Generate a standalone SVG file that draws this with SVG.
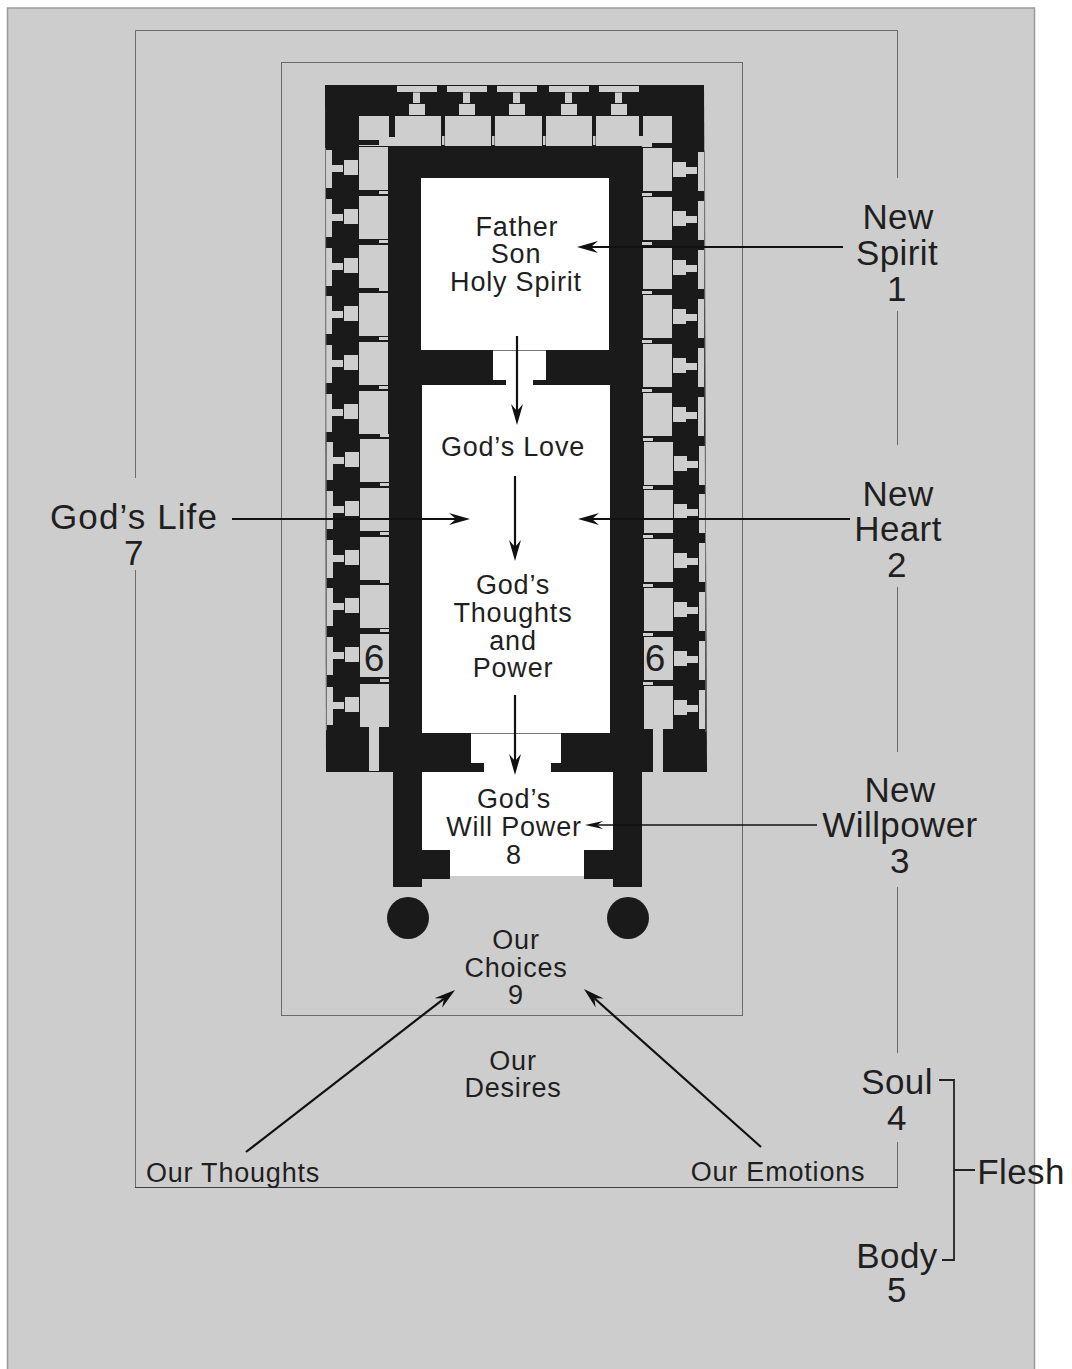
<svg xmlns="http://www.w3.org/2000/svg" width="1072" height="1369" viewBox="0 0 1072 1369">
<style>
text{font-family:"Liberation Sans",Arial,sans-serif;fill:#1f1f1f;text-anchor:middle}
.s{font-size:27px;letter-spacing:.8px}
.l{font-size:35px;letter-spacing:.4px}
.w6{font-size:37px}
.wide{letter-spacing:1.1px}
.f{fill:#cecece}
.k{fill:#1a1a1a}
.w{fill:#fff}
.frame{stroke:#6a6a6a;stroke-width:1;fill:none}
.arrow{stroke:#111;stroke-width:2.2;fill:none;marker-end:url(#head)}
.arrow2{stroke:#111;stroke-width:1.6;fill:none;marker-end:url(#headS)}
.brace{stroke:#222;stroke-width:1.8;fill:none}
.edge{stroke:#777;stroke-width:1;fill:none}
</style>
<defs>
<marker id="head" markerUnits="userSpaceOnUse" markerWidth="22" markerHeight="14" refX="7" refY="6.5" orient="auto"><path d="M0,0.5 L21,6.5 L0,12.5 L7,6.5 Z" fill="#111"/></marker>
<marker id="headS" markerUnits="userSpaceOnUse" markerWidth="20" markerHeight="10" refX="6" refY="4.5" orient="auto"><path d="M0,0.5 L18,4.5 L0,8.5 L6,4.5 Z" fill="#111"/></marker>
<g id="bayL"><rect class="f" x="325.500" y="3" width="6.500" height="38"/><rect class="f" x="332" y="18" width="11" height="7"/><rect class="f" x="344" y="13" width="14" height="15"/><rect class="f" x="359" y="0" width="29" height="43"/><rect class="f" x="379" y="-5" width="9" height="3"/></g>
<g id="bayR"><rect class="f" x="643" y="0" width="29" height="43"/><rect class="f" x="673" y="14" width="13" height="15"/><rect class="f" x="686" y="19" width="11" height="7"/><rect class="f" x="698" y="4" width="6" height="39"/><rect class="f" x="642" y="-4" width="10" height="3"/></g>
<g id="bayT"><rect class="f" x="0" y="86" width="40" height="6"/><rect class="f" x="16" y="92.500" width="7" height="10.500"/><rect class="f" x="12" y="104" width="16" height="11"/></g>
</defs>
<rect width="1072" height="1369" fill="#fff"/>
<rect id="page" x="7.500" y="8" width="1027" height="1365" fill="#cdcdcd" stroke="#999" stroke-width="1.500"/>
<g id="frames">
<path class="frame" d="M135.500,478 V30.500 H897.500 V178 M897.500,311 V445 M897.500,587 V752 M897.500,887 V1053 M897.500,1142 V1187 M135.500,570 V1187"/>
<path d="M135,1187.500 H898" stroke="#444" stroke-width="1" fill="none"/>
<rect class="frame" x="281.500" y="62.500" width="461" height="953"/>
</g>
<g id="temple">
<path class="k" d="M325,85 H704 L707,772 H326 Z"/>
<rect class="k" x="393" y="772" width="29" height="115"/>
<rect class="k" x="613" y="772" width="29" height="115"/>
<rect class="f" x="359" y="116" width="313" height="30"/>
<rect class="k" x="389" y="116" width="6" height="21"/>
<rect class="k" x="441" y="116" width="4" height="30"/><rect class="f" x="442" y="136" width="2.500" height="9"/>
<rect class="k" x="491" y="116" width="4" height="30"/><rect class="f" x="492" y="136" width="2.500" height="9"/>
<rect class="k" x="542" y="116" width="4" height="30"/><rect class="f" x="543" y="136" width="2.500" height="9"/>
<rect class="k" x="592" y="116" width="4" height="30"/><rect class="f" x="593" y="136" width="2.500" height="9"/>
<rect class="k" x="639" y="116" width="4" height="20"/>
<rect class="k" x="388" y="146" width="254" height="40"/>
<rect class="k" x="359" y="140" width="20" height="5"/>
<rect class="k" x="652" y="143" width="20" height="4"/>
<use href="#bayT" x="397"/><use href="#bayT" x="447"/><use href="#bayT" x="497"/><use href="#bayT" x="549"/><use href="#bayT" x="599"/>
<use href="#bayL" y="147"/><use href="#bayL" y="196"/><use href="#bayL" y="245"/><use href="#bayL" y="293"/><use href="#bayL" y="342"/><use href="#bayL" y="391"/><use href="#bayL" x="1" y="439"/><use href="#bayL" x="1" y="488"/><use href="#bayL" x="1" y="537"/><use href="#bayL" x="1" y="585"/><use href="#bayL" x="1" y="634"/><use href="#bayL" x="1" y="684"/>
<use href="#bayR" y="148"/><use href="#bayR" y="197"/><use href="#bayR" y="246"/><use href="#bayR" y="295"/><use href="#bayR" y="344"/><use href="#bayR" y="393"/><use href="#bayR" x="1" y="442"/><use href="#bayR" x="1" y="490"/><use href="#bayR" x="1" y="539"/><use href="#bayR" x="1" y="588"/><use href="#bayR" x="1" y="637"/><use href="#bayR" x="1" y="686"/>
<path class="edge" d="M325.500,148 L326.500,730 M704.500,150 L706,732"/>
<rect class="f" x="369" y="727" width="10" height="44"/>
<rect class="f" x="653" y="729" width="10" height="43"/>
<path class="w" d="M421,178 H609 V350 H546 V380 H533 V385 H610 V733 H561 V763 H551 V772 H613 V850 H584 V876 H450 V850 H422 V772 H484 V763 H471 V733 H422 V385 H506 V380 H493 V350 H421 Z"/>
<path d="M493,350.500 H546 M471,733.500 H561" stroke="#777" stroke-width="1" fill="none"/>
<rect class="k" x="422" y="850" width="28" height="29"/>
<rect class="k" x="584" y="850" width="29" height="29"/>
<circle class="k" cx="408" cy="918" r="21"/>
<circle class="k" cx="628" cy="918" r="21"/>
</g>
<g id="connectors">
<path class="arrow" d="M843,247 H591"/>
<path class="arrow" d="M517,336 V411"/>
<path class="arrow" d="M515,476 V547"/>
<path class="arrow" d="M515,695 V761"/>
<path class="arrow" d="M232,519 H456"/>
<path class="arrow" d="M850,519 H592"/>
<path class="arrow2" d="M817,825 H597"/>
<path class="arrow" d="M246,1152 L444,998.600"/>
<path class="arrow" d="M761,1147 L594.400,998.300"/>
<path class="brace" d="M939,1080 H954 V1260 H942 M954,1170 H975"/>
</g>
<g id="node-godhead"><text class="s" x="517" y="236">Father</text><text class="s" x="516" y="263">Son</text><text class="s" x="516" y="291">Holy Spirit</text></g>
<g id="node-love"><text class="s" x="513" y="456">God’s Love</text></g>
<g id="node-thoughts"><text class="s" x="513" y="594">God’s</text><text class="s" x="513" y="622">Thoughts</text><text class="s" x="513" y="650">and</text><text class="s" x="513" y="677">Power</text></g>
<g id="node-will"><text class="s" x="514" y="808">God’s</text><text class="s" x="514" y="836">Will Power</text><text class="s" x="514" y="864">8</text></g>
<g id="node-choices"><text class="s" x="516" y="949">Our</text><text class="s" x="516" y="977">Choices</text><text class="s" x="516" y="1004">9</text></g>
<g id="node-desires"><text class="s" x="513" y="1070">Our</text><text class="s" x="513" y="1097">Desires</text></g>
<g id="node-our-thoughts"><text class="s" x="233" y="1182">Our Thoughts</text></g>
<g id="node-our-emotions"><text class="s" x="778" y="1181">Our Emotions</text></g>
<g id="node-six-left"><text class="w6" x="374" y="671">6</text></g>
<g id="node-six-right"><text class="w6" x="655" y="671">6</text></g>
<g id="node-new-spirit"><text class="l" x="898" y="229">New</text><text class="l" x="897" y="265">Spirit</text><text class="l" x="897" y="301">1</text></g>
<g id="node-new-heart"><text class="l" x="898" y="506">New</text><text class="l" x="898" y="541">Heart</text><text class="l" x="897" y="577">2</text></g>
<g id="node-new-willpower"><text class="l" x="900" y="802">New</text><text class="l" x="900" y="837">Willpower</text><text class="l" x="900" y="873">3</text></g>
<g id="node-gods-life"><text class="l wide" x="134" y="529">God’s Life</text><text class="l" x="134" y="565">7</text></g>
<g id="node-soul"><text class="l" x="897" y="1094">Soul</text><text class="l" x="897" y="1130">4</text></g>
<g id="node-body"><text class="l" x="897" y="1268">Body</text><text class="l" x="897" y="1302">5</text></g>
<g id="node-flesh"><text class="l" x="1021" y="1184">Flesh</text></g>
</svg>
